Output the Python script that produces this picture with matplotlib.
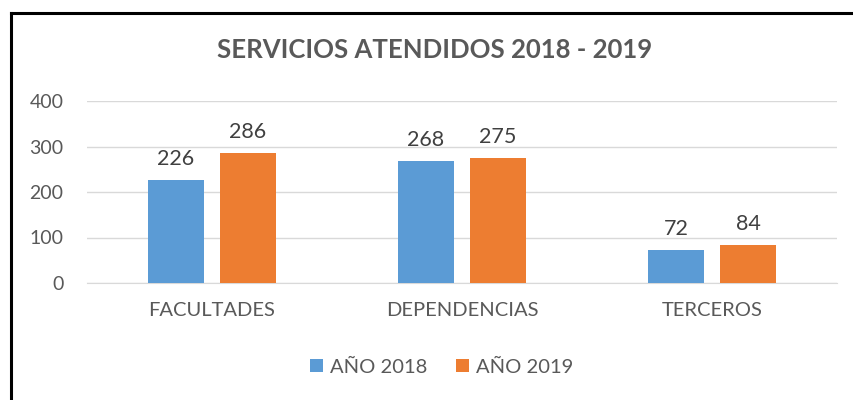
import numpy as np
import matplotlib
matplotlib.use("Agg")
import matplotlib.pyplot as plt
from matplotlib.lines import Line2D

plt.rcParams['font.family'] = ['Lato', 'DejaVu Sans']

categorias = ["FACULTADES", "DEPENDENCIAS", "TERCEROS"]
anio_2018 = [226, 268, 72]
anio_2019 = [286, 275, 84]
series = ["AÑO 2018", "AÑO 2019"]
yticks = [0, 100, 200, 300, 400]

fig = plt.figure(figsize=(8.54, 4.0), dpi=100)
ax = fig.add_axes([87 / 854, 1 - 283 / 400, 750 / 854, 182 / 400])

x = np.arange(len(categorias))
w = 0.224
off = 0.144
b1 = ax.bar(x - off, anio_2018, w, color="#5B9BD5", label=series[0], zorder=3)
b2 = ax.bar(x + off, anio_2019, w, color="#ED7D31", label=series[1], zorder=3)

for bars in (b1, b2):
    for b in bars:
        ax.annotate(str(int(b.get_height())),
                    (b.get_x() + b.get_width() / 2, b.get_height()),
                    xytext=(0, 8), textcoords="offset points",
                    ha="center", va="bottom", fontsize=15.5, color="#404040")

ax.set_xlim(-0.5, 2.5)
ax.set_ylim(0, 400)
ax.set_yticks(yticks)
ax.set_xticks(x)
ax.set_xticklabels(categorias)
ax.tick_params(axis="both", length=0, labelsize=14, colors="#595959")
ax.tick_params(axis="x", labelsize=14.5, pad=14)
ax.tick_params(axis="y", pad=17)
ax.grid(axis="y", color="#D9D9D9", linewidth=1, zorder=0)
for s in ["top", "right", "left"]:
    ax.spines[s].set_visible(False)
ax.spines["bottom"].set_color("#D9D9D9")

fig.text(0.509, 1 - 50 / 400, "SERVICIOS ATENDIDOS 2018 - 2019", ha="center",
         va="center", fontsize=18.5, fontweight="bold", color="#595959")

fig.legend(handles=[b1, b2], loc="center", bbox_to_anchor=(0.517, 1 - 367 / 400),
           ncol=2, frameon=False, fontsize=14.5, handlelength=0.65,
           handleheight=0.65, handletextpad=0.35, columnspacing=1.4,
           labelcolor="#595959")

# marco superior e izquierdo
fig.add_artist(Line2D([11 / 854, 11 / 854], [0, 1 - 13 / 400],
                      transform=fig.transFigure, color="black", lw=2.2))
fig.add_artist(Line2D([11 / 854, 1], [1 - 13 / 400, 1 - 13 / 400],
                      transform=fig.transFigure, color="black", lw=2.2))

fig.savefig("out.png", dpi=100)
